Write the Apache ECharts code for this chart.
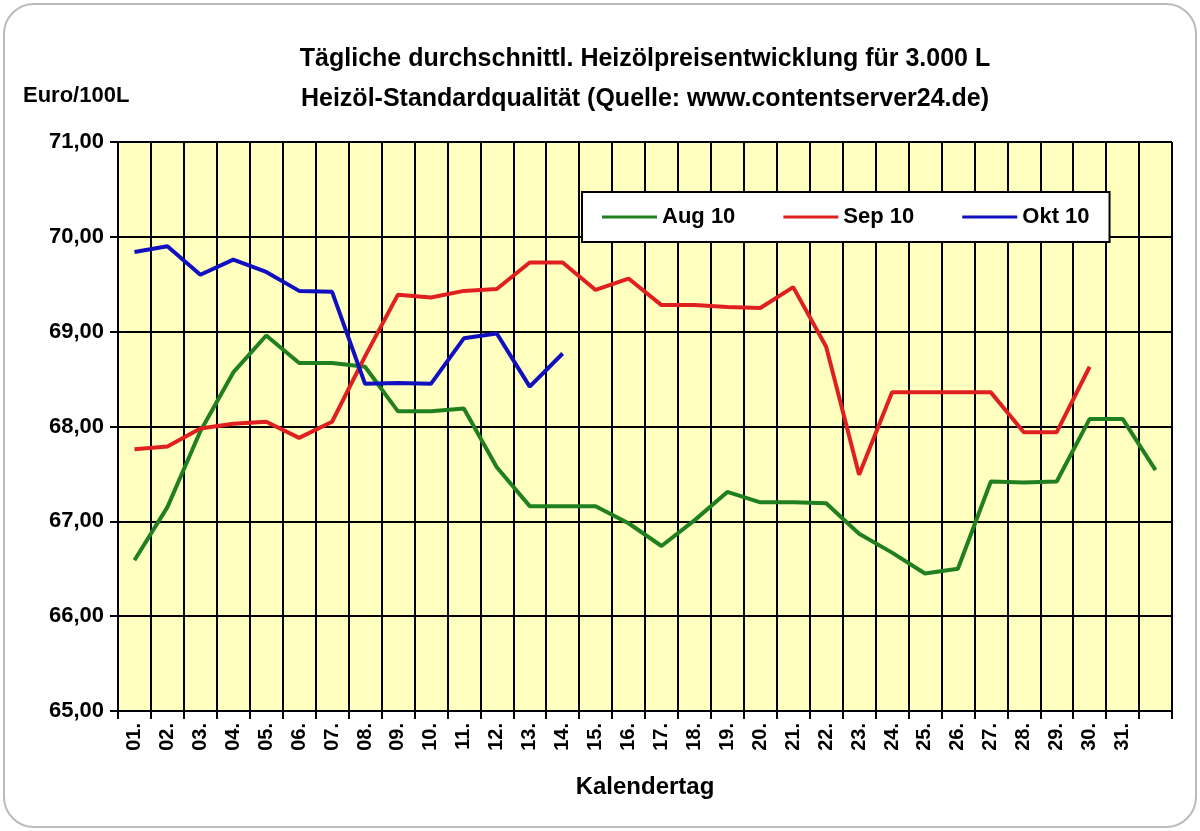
<!DOCTYPE html>
<html><head><meta charset="utf-8">
<script src="https://cdn.jsdelivr.net/npm/echarts@6/dist/echarts.min.js"></script>
<style>html,body{margin:0;padding:0;background:#fff}#c{width:1200px;height:831px}</style>
</head><body><div id="c"></div>
<script>
const categories = ["01.","02.","03.","04.","05.","06.","07.","08.","09.","10.","11.","12.","13.","14.","15.","16.","17.","18.","19.","20.","21.","22.","23.","24.","25.","26.","27.","28.","29.","30.","31.",""];
const aug10 = [66.59,67.15,67.95,68.57,68.96,68.67,68.67,68.63,68.16,68.16,68.19,67.57,67.16,67.16,67.16,66.98,66.74,67.01,67.31,67.2,67.2,67.19,66.87,66.67,66.45,66.5,67.42,67.41,67.42,68.08,68.08,67.54];
const sep10 = [67.76,67.79,67.98,68.03,68.05,67.88,68.05,68.74,69.39,69.36,69.43,69.45,69.73,69.73,69.44,69.56,69.28,69.28,69.26,69.25,69.47,68.84,67.49,68.36,68.36,68.36,68.36,67.94,67.94,68.63];
const okt10 = [69.84,69.90,69.6,69.76,69.63,69.43,69.42,68.45,68.46,68.45,68.93,68.98,68.42,68.77];
const yTicks = {min:65,max:71,interval:1};

const chart = echarts.init(document.getElementById('c'));
const f = 'Arial, "Liberation Sans", sans-serif';
chart.setOption({
  backgroundColor:'#fff',
  animation:false,
  graphic:[{type:'rect',shape:{x:4,y:4,width:1192,height:823,r:30},style:{fill:'none',stroke:'#bbb',lineWidth:2},z:-1}],
  title:[
    {text:'Tägliche durchschnittl. Heizölpreisentwicklung für 3.000 L',left:640,top:42,textAlign:'center',textStyle:{fontFamily:f,fontWeight:'bold',fontSize:25,color:'#000'}},
    {text:'Heizöl-Standardqualität (Quelle: www.contentserver24.de)',left:640,top:82,textAlign:'center',textStyle:{fontFamily:f,fontWeight:'bold',fontSize:25,color:'#000'}},
    {text:'Euro/100L',left:18,top:80,textStyle:{fontFamily:f,fontWeight:'bold',fontSize:22,color:'#000'}}
  ],
  legend:{top:192,left:582,width:556,height:52,itemGap:48,padding:[14,20],backgroundColor:'#fff',borderColor:'#000',borderWidth:2,
    itemWidth:55,icon:'rect',itemHeight:3,textStyle:{fontFamily:f,fontWeight:'bold',fontSize:22,color:'#000'},
    data:['Aug 10','Sep 10','Okt 10']},
  grid:{left:118,right:28,top:142,bottom:120,backgroundColor:'#ffffc0',show:true,borderColor:'#000',borderWidth:1},
  xAxis:{type:'category',data:categories,boundaryGap:true,
    name:'Kalendertag',nameLocation:'middle',nameGap:64,nameTextStyle:{fontFamily:f,fontWeight:'bold',fontSize:24,color:'#000'},
    axisLine:{lineStyle:{color:'#000',width:2}},axisTick:{show:true,length:8,lineStyle:{color:'#000',width:2}},
    axisLabel:{rotate:90,interval:0,fontFamily:f,fontWeight:'bold',fontSize:20,color:'#000',margin:12},
    splitLine:{show:true,interval:0,lineStyle:{color:'#000',width:2}}},
  yAxis:{type:'value',min:yTicks.min,max:yTicks.max,interval:yTicks.interval,
    axisLine:{show:true,lineStyle:{color:'#000',width:2}},axisTick:{show:true,length:8,lineStyle:{color:'#000',width:2}},
    axisLabel:{formatter:v=>v.toFixed(2).replace('.',','),fontFamily:f,fontWeight:'bold',fontSize:22,color:'#000',margin:14},
    splitLine:{lineStyle:{color:'#000',width:2}}},
  series:[
    {name:'Aug 10',type:'line',data:aug10,symbol:'none',lineStyle:{color:'#208020',width:4},itemStyle:{color:'#208020'}},
    {name:'Sep 10',type:'line',data:sep10,symbol:'none',lineStyle:{color:'#e02020',width:4},itemStyle:{color:'#e02020'}},
    {name:'Okt 10',type:'line',data:okt10,symbol:'none',lineStyle:{color:'#1010c0',width:4},itemStyle:{color:'#1010c0'}}
  ]
});
</script></body></html>
